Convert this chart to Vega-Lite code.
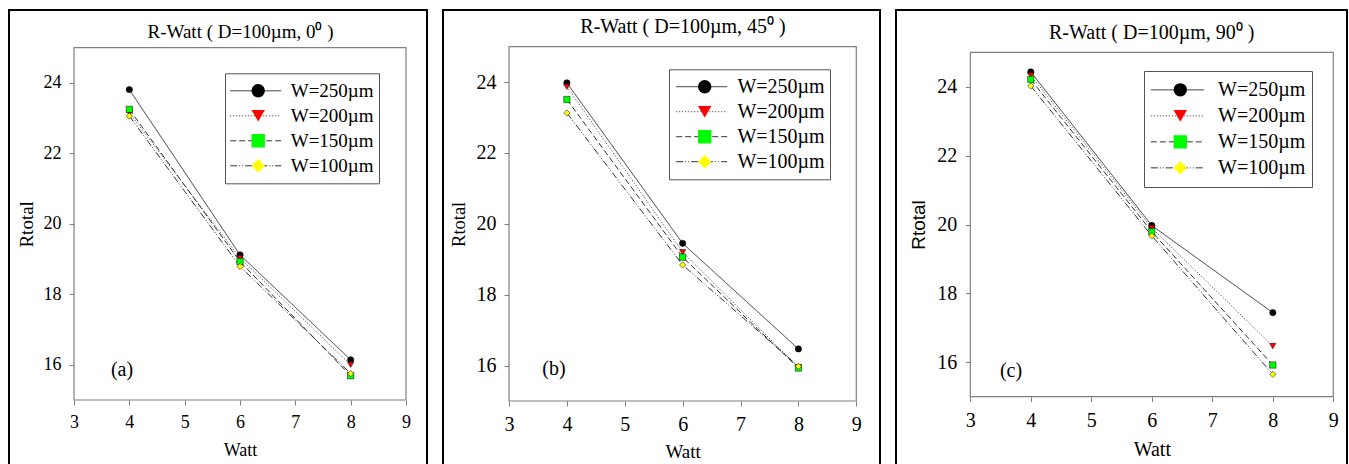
{
  "$schema": "https://vega.github.io/schema/vega-lite/v6.json",
  "padding": {"left": 8, "top": 9, "right": 1, "bottom": 0},
  "spacing": 14,
  "datasets": {
    "a": [
      {"W": "W=250µm", "Watt": 4, "Rtotal": 23.81},
      {"W": "W=250µm", "Watt": 6, "Rtotal": 19.12},
      {"W": "W=250µm", "Watt": 8, "Rtotal": 16.14},
      {"W": "W=200µm", "Watt": 4, "Rtotal": 23.15},
      {"W": "W=200µm", "Watt": 6, "Rtotal": 19.03},
      {"W": "W=200µm", "Watt": 8, "Rtotal": 16.0},
      {"W": "W=150µm", "Watt": 4, "Rtotal": 23.25},
      {"W": "W=150µm", "Watt": 6, "Rtotal": 18.93},
      {"W": "W=150µm", "Watt": 8, "Rtotal": 15.69},
      {"W": "W=100µm", "Watt": 4, "Rtotal": 23.06},
      {"W": "W=100µm", "Watt": 6, "Rtotal": 18.79},
      {"W": "W=100µm", "Watt": 8, "Rtotal": 15.75}
    ],
    "b": [
      {"W": "W=250µm", "Watt": 4, "Rtotal": 23.98},
      {"W": "W=250µm", "Watt": 6, "Rtotal": 19.45},
      {"W": "W=250µm", "Watt": 8, "Rtotal": 16.47},
      {"W": "W=200µm", "Watt": 4, "Rtotal": 23.87},
      {"W": "W=200µm", "Watt": 6, "Rtotal": 19.2},
      {"W": "W=200µm", "Watt": 8, "Rtotal": 15.95},
      {"W": "W=150µm", "Watt": 4, "Rtotal": 23.51},
      {"W": "W=150µm", "Watt": 6, "Rtotal": 19.06},
      {"W": "W=150µm", "Watt": 8, "Rtotal": 15.93},
      {"W": "W=100µm", "Watt": 4, "Rtotal": 23.13},
      {"W": "W=100µm", "Watt": 6, "Rtotal": 18.84},
      {"W": "W=100µm", "Watt": 8, "Rtotal": 15.98}
    ],
    "c": [
      {"W": "W=250µm", "Watt": 4, "Rtotal": 24.43},
      {"W": "W=250µm", "Watt": 6, "Rtotal": 19.97},
      {"W": "W=250µm", "Watt": 8, "Rtotal": 17.44},
      {"W": "W=200µm", "Watt": 4, "Rtotal": 24.33},
      {"W": "W=200µm", "Watt": 6, "Rtotal": 19.9},
      {"W": "W=200µm", "Watt": 8, "Rtotal": 16.47},
      {"W": "W=150µm", "Watt": 4, "Rtotal": 24.21},
      {"W": "W=150µm", "Watt": 6, "Rtotal": 19.79},
      {"W": "W=150µm", "Watt": 8, "Rtotal": 15.92},
      {"W": "W=100µm", "Watt": 4, "Rtotal": 24.02},
      {"W": "W=100µm", "Watt": 6, "Rtotal": 19.67},
      {"W": "W=100µm", "Watt": 8, "Rtotal": 15.65}
    ]
  },
  "hconcat": [
    {
      "width": 418, "height": 470,
      "title": {"text": "R-Watt ( D=100µm, 0⁰ )", "font": "Liberation Serif", "fontSize": 19, "fontWeight": "normal", "color": "black", "anchor": "middle", "frame": "group", "baseline": "alphabetic", "offset": -46.7, "dx": 22.5},
      "layer": [
        {"data": {"name": "a"}, "mark": {"type": "line", "color": "#333", "strokeWidth": 1},
         "encoding": {
           "x": {"field": "Watt", "type": "quantitative", "title": "Watt", "scale": {"domain": [3, 9], "range": [65, 397], "nice": false, "zero": false},
                 "axis": {"values": [3,4,5,6,7,8,9], "format": "d", "offset": -80, "title": "Watt", "labelFont": "Liberation Serif", "titleFont": "Liberation Serif", "titleFontWeight": "normal", "labelFontSize": 18, "titleFontSize": 18, "labelPadding": 8, "titlePadding": 10}},
           "y": {"field": "Rtotal", "type": "quantitative", "title": "Rtotal", "scale": {"domain": [15, 25], "range": [390, 37.7], "nice": false, "zero": false},
                 "axis": {"values": [16,18,20,22,24], "format": "d", "offset": -65, "title": "Rtotal", "labelFont": "Liberation Serif", "titleFont": "Liberation Serif", "titleFontWeight": "normal", "labelFontSize": 18, "titleFontSize": 19, "labelPadding": 8, "titlePadding": 7}},
           "strokeDash": {"field": "W", "type": "nominal",
             "scale": {"domain": ["W=250µm","W=200µm","W=150µm","W=100µm"], "range": [[1,0],[1,2],[6,3],[7,2,1,2,1,2]]},
             "legend": {"title": null, "orient": "none", "legendX": 220.7, "legendY": 68.3, "direction": "vertical", "padding": 0, "clipHeight": 25, "rowPadding": 0, "symbolType": "stroke", "symbolSize": 2601, "symbolStrokeColor": "#333", "symbolStrokeWidth": 1, "labelExpr": "''", "zindex": 1}}
         }},
        {"data": {"values": [{}]}, "mark": {"type": "rect", "fill": "transparent", "stroke": "#808080", "strokeWidth": 1.2},
         "encoding": {
           "x": {"datum": 3, "title": "Watt", "axis": {"values": [3,4,5,6,7,8,9], "format": "d", "offset": -80, "title": "Watt", "labelFont": "Liberation Serif", "titleFont": "Liberation Serif", "titleFontWeight": "normal", "labelFontSize": 18, "titleFontSize": 18, "labelPadding": 8, "titlePadding": 10}},
           "x2": {"datum": 9},
           "y": {"datum": 15, "title": "Rtotal", "axis": {"values": [16,18,20,22,24], "format": "d", "offset": -65, "title": "Rtotal", "labelFont": "Liberation Serif", "titleFont": "Liberation Serif", "titleFontWeight": "normal", "labelFontSize": 18, "titleFontSize": 19, "labelPadding": 8, "titlePadding": 7}},
           "y2": {"datum": 25}}},
        {"data": {"name": "a"}, "mark": {"type": "point", "filled": true, "size": 40, "stroke": "black", "strokeWidth": 0.5, "opacity": 1},
         "encoding": {
           "x": {"field": "Watt", "type": "quantitative", "title": "Watt", "axis": {"values": [3,4,5,6,7,8,9], "format": "d", "offset": -80, "title": "Watt", "labelFont": "Liberation Serif", "titleFont": "Liberation Serif", "titleFontWeight": "normal", "labelFontSize": 18, "titleFontSize": 18, "labelPadding": 8, "titlePadding": 10}},
           "y": {"field": "Rtotal", "type": "quantitative", "title": "Rtotal", "axis": {"values": [16,18,20,22,24], "format": "d", "offset": -65, "title": "Rtotal", "labelFont": "Liberation Serif", "titleFont": "Liberation Serif", "titleFontWeight": "normal", "labelFontSize": 18, "titleFontSize": 19, "labelPadding": 8, "titlePadding": 7}},
           "shape": {"field": "W", "type": "nominal", "sort": "descending", "scale": {"range": ["circle","triangle-down","square","diamond"]},
             "legend": {"title": null, "orient": "none", "legendX": 216, "legendY": 63.3, "direction": "vertical", "padding": 5, "clipHeight": 25, "rowPadding": 0, "symbolSize": 180, "symbolOffset": 18.7, "labelOffset": 23, "labelFont": "Liberation Serif", "labelFontSize": 19, "labelColor": "black", "labelLimit": 300, "strokeColor": "#555", "symbolStrokeColor": "black", "symbolStrokeWidth": 0.6, "zindex": 2}},
           "fill": {"field": "W", "type": "nominal", "sort": "descending", "scale": {"range": ["#000000","#ff0000","#00ff00","#ffff00"]},
             "legend": {"title": null, "orient": "none", "legendX": 216, "legendY": 63.3, "direction": "vertical", "padding": 5, "clipHeight": 25, "rowPadding": 0, "symbolSize": 180, "symbolOffset": 18.7, "labelOffset": 23, "labelFont": "Liberation Serif", "labelFontSize": 19, "labelColor": "black", "labelLimit": 300, "strokeColor": "#555", "symbolStrokeColor": "black", "symbolStrokeWidth": 0.6, "zindex": 2}}
         }},
        {"data": {"values": [{}]}, "mark": {"type": "text", "font": "Liberation Serif", "fontSize": 20, "align": "center", "baseline": "middle", "color": "black"},
         "encoding": {
           "x": {"datum": 3.867, "title": "Watt", "axis": {"values": [3,4,5,6,7,8,9], "format": "d", "offset": -80, "title": "Watt", "labelFont": "Liberation Serif", "titleFont": "Liberation Serif", "titleFontWeight": "normal", "labelFontSize": 18, "titleFontSize": 18, "labelPadding": 8, "titlePadding": 10}},
           "y": {"datum": 15.85, "title": "Rtotal", "axis": {"values": [16,18,20,22,24], "format": "d", "offset": -65, "title": "Rtotal", "labelFont": "Liberation Serif", "titleFont": "Liberation Serif", "titleFontWeight": "normal", "labelFontSize": 18, "titleFontSize": 19, "labelPadding": 8, "titlePadding": 7}},
           "text": {"value": "(a)"}}}
      ]
    },
    {
      "width": 437, "height": 470,
      "title": {"text": "R-Watt ( D=100µm, 45⁰ )", "font": "Liberation Serif", "fontSize": 20, "fontWeight": "normal", "color": "black", "anchor": "middle", "frame": "group", "baseline": "alphabetic", "offset": -43, "dx": 21.5},
      "layer": [
        {"data": {"name": "b"}, "mark": {"type": "line", "color": "#333", "strokeWidth": 1},
         "encoding": {
           "x": {"field": "Watt", "type": "quantitative", "title": "Watt", "scale": {"domain": [3, 9], "range": [66, 413.3], "nice": false, "zero": false},
                 "axis": {"values": [3,4,5,6,7,8,9], "format": "d", "offset": -79, "title": "Watt", "labelFont": "Liberation Serif", "titleFont": "Liberation Serif", "titleFontWeight": "normal", "labelFontSize": 20, "titleFontSize": 19, "labelPadding": 8, "titlePadding": 8.3}},
           "y": {"field": "Rtotal", "type": "quantitative", "title": "Rtotal", "scale": {"domain": [15, 25], "range": [391, 36.7], "nice": false, "zero": false},
                 "axis": {"values": [16,18,20,22,24], "format": "d", "offset": -66, "title": "Rtotal", "labelFont": "Liberation Serif", "titleFont": "Liberation Serif", "titleFontWeight": "normal", "labelFontSize": 20, "titleFontSize": 18.5, "labelPadding": 8, "titlePadding": 8}},
           "strokeDash": {"field": "W", "type": "nominal",
             "scale": {"domain": ["W=250µm","W=200µm","W=150µm","W=100µm"], "range": [[1,0],[1,2],[6,3],[7,2,1,2,1,2]]},
             "legend": {"title": null, "orient": "none", "legendX": 232.7, "legendY": 64.6, "direction": "vertical", "padding": 0, "clipHeight": 24.2, "rowPadding": 0, "symbolType": "stroke", "symbolSize": 2601, "symbolStrokeColor": "#333", "symbolStrokeWidth": 1, "labelExpr": "''", "zindex": 1}}
         }},
        {"data": {"values": [{}]}, "mark": {"type": "rect", "fill": "transparent", "stroke": "#808080", "strokeWidth": 1.2},
         "encoding": {
           "x": {"datum": 3, "title": "Watt", "axis": {"values": [3,4,5,6,7,8,9], "format": "d", "offset": -79, "title": "Watt", "labelFont": "Liberation Serif", "titleFont": "Liberation Serif", "titleFontWeight": "normal", "labelFontSize": 20, "titleFontSize": 19, "labelPadding": 8, "titlePadding": 8.3}},
           "x2": {"datum": 9},
           "y": {"datum": 15, "title": "Rtotal", "axis": {"values": [16,18,20,22,24], "format": "d", "offset": -66, "title": "Rtotal", "labelFont": "Liberation Serif", "titleFont": "Liberation Serif", "titleFontWeight": "normal", "labelFontSize": 20, "titleFontSize": 18.5, "labelPadding": 8, "titlePadding": 8}},
           "y2": {"datum": 25}}},
        {"data": {"name": "b"}, "mark": {"type": "point", "filled": true, "size": 40, "stroke": "black", "strokeWidth": 0.5, "opacity": 1},
         "encoding": {
           "x": {"field": "Watt", "type": "quantitative", "title": "Watt", "axis": {"values": [3,4,5,6,7,8,9], "format": "d", "offset": -79, "title": "Watt", "labelFont": "Liberation Serif", "titleFont": "Liberation Serif", "titleFontWeight": "normal", "labelFontSize": 20, "titleFontSize": 19, "labelPadding": 8, "titlePadding": 8.3}},
           "y": {"field": "Rtotal", "type": "quantitative", "title": "Rtotal", "axis": {"values": [16,18,20,22,24], "format": "d", "offset": -66, "title": "Rtotal", "labelFont": "Liberation Serif", "titleFont": "Liberation Serif", "titleFontWeight": "normal", "labelFontSize": 20, "titleFontSize": 18.5, "labelPadding": 8, "titlePadding": 8}},
           "shape": {"field": "W", "type": "nominal", "sort": "descending", "scale": {"range": ["circle","triangle-down","square","diamond"]},
             "legend": {"title": null, "orient": "none", "legendX": 226, "legendY": 59.3, "direction": "vertical", "padding": 5.3, "clipHeight": 24.2, "rowPadding": 0, "symbolSize": 180, "symbolOffset": 20.4, "labelOffset": 22.7, "labelFont": "Liberation Serif", "labelFontSize": 20, "labelColor": "black", "labelLimit": 300, "strokeColor": "#555", "symbolStrokeColor": "black", "symbolStrokeWidth": 0.6, "zindex": 2}},
           "fill": {"field": "W", "type": "nominal", "sort": "descending", "scale": {"range": ["#000000","#ff0000","#00ff00","#ffff00"]},
             "legend": {"title": null, "orient": "none", "legendX": 226, "legendY": 59.3, "direction": "vertical", "padding": 5.3, "clipHeight": 24.2, "rowPadding": 0, "symbolSize": 180, "symbolOffset": 20.4, "labelOffset": 22.7, "labelFont": "Liberation Serif", "labelFontSize": 20, "labelColor": "black", "labelLimit": 300, "strokeColor": "#555", "symbolStrokeColor": "black", "symbolStrokeWidth": 0.6, "zindex": 2}}
         }},
        {"data": {"values": [{}]}, "mark": {"type": "text", "font": "Liberation Serif", "fontSize": 20, "align": "center", "baseline": "middle", "color": "black"},
         "encoding": {
           "x": {"datum": 3.777, "title": "Watt", "axis": {"values": [3,4,5,6,7,8,9], "format": "d", "offset": -79, "title": "Watt", "labelFont": "Liberation Serif", "titleFont": "Liberation Serif", "titleFontWeight": "normal", "labelFontSize": 20, "titleFontSize": 19, "labelPadding": 8, "titlePadding": 8.3}},
           "y": {"datum": 15.9, "title": "Rtotal", "axis": {"values": [16,18,20,22,24], "format": "d", "offset": -66, "title": "Rtotal", "labelFont": "Liberation Serif", "titleFont": "Liberation Serif", "titleFontWeight": "normal", "labelFontSize": 20, "titleFontSize": 18.5, "labelPadding": 8, "titlePadding": 8}},
           "text": {"value": "(b)"}}}
      ]
    },
    {
      "width": 451, "height": 470,
      "title": {"text": "R-Watt ( D=100µm, 90⁰ )", "font": "Liberation Serif", "fontSize": 20, "fontWeight": "normal", "color": "black", "anchor": "middle", "frame": "group", "baseline": "alphabetic", "offset": -49.3, "dx": 30.2},
      "layer": [
        {"data": {"name": "c"}, "mark": {"type": "line", "color": "#333", "strokeWidth": 1},
         "encoding": {
           "x": {"field": "Watt", "type": "quantitative", "title": "Watt", "scale": {"domain": [3, 9], "range": [74.3, 437.3], "nice": false, "zero": false},
                 "axis": {"values": [3,4,5,6,7,8,9], "format": "d", "offset": -83.3, "title": "Watt", "labelFont": "Liberation Serif", "titleFont": "Liberation Serif", "titleFontWeight": "normal", "labelFontSize": 20, "titleFontSize": 20, "labelPadding": 9, "titlePadding": 9}},
           "y": {"field": "Rtotal", "type": "quantitative", "title": "Rtotal", "scale": {"domain": [15, 25], "range": [386.7, 42.3], "nice": false, "zero": false},
                 "axis": {"values": [16,18,20,22,24], "format": "d", "offset": -74.3, "title": "Rtotal", "labelFont": "Liberation Serif", "titleFont": "Liberation Sans", "titleFontWeight": "normal", "labelFontSize": 20, "titleFontSize": 19, "labelPadding": 8.6, "titlePadding": 8.7}},
           "strokeDash": {"field": "W", "type": "nominal",
             "scale": {"domain": ["W=250µm","W=200µm","W=150µm","W=100µm"], "range": [[1,0],[1,2],[6,3],[7,2,1,2,1,2]]},
             "legend": {"title": null, "orient": "none", "legendX": 254.3, "legendY": 67.3, "direction": "vertical", "padding": 0, "clipHeight": 25.1, "rowPadding": 0, "symbolType": "stroke", "symbolSize": 2809, "symbolStrokeColor": "#333", "symbolStrokeWidth": 1, "labelExpr": "''", "zindex": 1}}
         }},
        {"data": {"values": [{}]}, "mark": {"type": "rect", "fill": "transparent", "stroke": "#808080", "strokeWidth": 1.2},
         "encoding": {
           "x": {"datum": 3, "title": "Watt", "axis": {"values": [3,4,5,6,7,8,9], "format": "d", "offset": -83.3, "title": "Watt", "labelFont": "Liberation Serif", "titleFont": "Liberation Serif", "titleFontWeight": "normal", "labelFontSize": 20, "titleFontSize": 20, "labelPadding": 9, "titlePadding": 9}},
           "x2": {"datum": 9},
           "y": {"datum": 15, "title": "Rtotal", "axis": {"values": [16,18,20,22,24], "format": "d", "offset": -74.3, "title": "Rtotal", "labelFont": "Liberation Serif", "titleFont": "Liberation Sans", "titleFontWeight": "normal", "labelFontSize": 20, "titleFontSize": 19, "labelPadding": 8.6, "titlePadding": 8.7}},
           "y2": {"datum": 25}}},
        {"data": {"name": "c"}, "mark": {"type": "point", "filled": true, "size": 40, "stroke": "black", "strokeWidth": 0.5, "opacity": 1},
         "encoding": {
           "x": {"field": "Watt", "type": "quantitative", "title": "Watt", "axis": {"values": [3,4,5,6,7,8,9], "format": "d", "offset": -83.3, "title": "Watt", "labelFont": "Liberation Serif", "titleFont": "Liberation Serif", "titleFontWeight": "normal", "labelFontSize": 20, "titleFontSize": 20, "labelPadding": 9, "titlePadding": 9}},
           "y": {"field": "Rtotal", "type": "quantitative", "title": "Rtotal", "axis": {"values": [16,18,20,22,24], "format": "d", "offset": -74.3, "title": "Rtotal", "labelFont": "Liberation Serif", "titleFont": "Liberation Sans", "titleFontWeight": "normal", "labelFontSize": 20, "titleFontSize": 19, "labelPadding": 8.6, "titlePadding": 8.7}},
           "shape": {"field": "W", "type": "nominal", "sort": "descending", "scale": {"range": ["circle","triangle-down","square","diamond"]},
             "legend": {"title": null, "orient": "none", "legendX": 248, "legendY": 61, "direction": "vertical", "padding": 6.3, "clipHeight": 25.1, "rowPadding": 0, "symbolSize": 180, "symbolOffset": 20, "labelOffset": 27.7, "labelFont": "Liberation Serif", "labelFontSize": 20, "labelColor": "black", "labelLimit": 300, "strokeColor": "#555", "symbolStrokeColor": "black", "symbolStrokeWidth": 0.6, "zindex": 2}},
           "fill": {"field": "W", "type": "nominal", "sort": "descending", "scale": {"range": ["#000000","#ff0000","#00ff00","#ffff00"]},
             "legend": {"title": null, "orient": "none", "legendX": 248, "legendY": 61, "direction": "vertical", "padding": 6.3, "clipHeight": 25.1, "rowPadding": 0, "symbolSize": 180, "symbolOffset": 20, "labelOffset": 27.7, "labelFont": "Liberation Serif", "labelFontSize": 20, "labelColor": "black", "labelLimit": 300, "strokeColor": "#555", "symbolStrokeColor": "black", "symbolStrokeWidth": 0.6, "zindex": 2}}
         }},
        {"data": {"values": [{}]}, "mark": {"type": "text", "font": "Liberation Serif", "fontSize": 20, "align": "center", "baseline": "middle", "color": "black"},
         "encoding": {
           "x": {"datum": 3.673, "title": "Watt", "axis": {"values": [3,4,5,6,7,8,9], "format": "d", "offset": -83.3, "title": "Watt", "labelFont": "Liberation Serif", "titleFont": "Liberation Serif", "titleFontWeight": "normal", "labelFontSize": 20, "titleFontSize": 20, "labelPadding": 9, "titlePadding": 9}},
           "y": {"datum": 15.75, "title": "Rtotal", "axis": {"values": [16,18,20,22,24], "format": "d", "offset": -74.3, "title": "Rtotal", "labelFont": "Liberation Serif", "titleFont": "Liberation Sans", "titleFontWeight": "normal", "labelFontSize": 20, "titleFontSize": 19, "labelPadding": 8.6, "titlePadding": 8.7}},
           "text": {"value": "(c)"}}}
      ]
    }
  ],
  "resolve": {"scale": {"shape": "independent", "fill": "independent", "strokeDash": "independent"}},
  "config": {
    "view": {"stroke": "black", "strokeWidth": 2},
    "axis": {"grid": false, "domain": false, "tickColor": "#808080", "tickSize": 5, "tickWidth": 1, "labelColor": "black", "titleColor": "black", "labelFont": "Liberation Serif", "titleFont": "Liberation Serif", "titleFontWeight": "normal", "labelFlush": false, "labelOverlap": false}
  }
}
